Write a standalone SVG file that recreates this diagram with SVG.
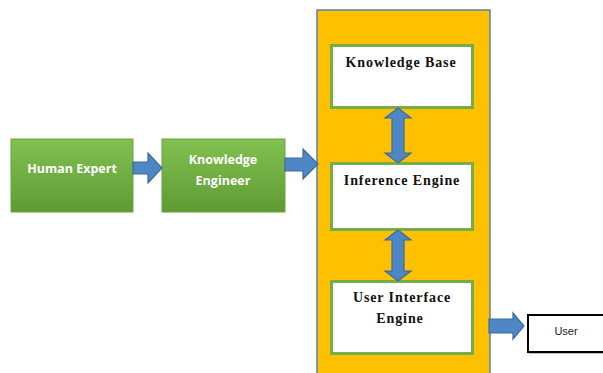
<svg xmlns="http://www.w3.org/2000/svg" width="603" height="373" viewBox="0 0 603 373">
  <defs>
    <linearGradient id="greenFill" x1="0" y1="0" x2="0" y2="1">
      <stop offset="0" stop-color="#82c051"/>
      <stop offset="1" stop-color="#5e9b34"/>
    </linearGradient>
    <style>
      .src { fill: url(#greenFill); stroke: #6aa23f; stroke-width: 1; }
      .srcText { font-family: "Open Sans", "Liberation Sans", sans-serif; font-weight: bold; font-size: 12.5px; fill: #ffffff; text-anchor: middle; }
      .module { fill: #ffffff; stroke: #77ad48; stroke-width: 3; }
      .modText { font-family: "Liberation Serif", serif; font-weight: bold; font-size: 14px; fill: #111111; text-anchor: middle; letter-spacing: 0.9px; }
      .arrow { fill: #4f86c6; stroke: #3c6a9e; stroke-width: 1.2; stroke-linejoin: miter; }
      .userText { font-family: "Liberation Sans", sans-serif; font-size: 11px; fill: #222222; text-anchor: middle; }
    </style>
  </defs>

  <rect width="603" height="373" fill="#ffffff"/>

  <!-- expert system container -->
  <g id="expert-system">
    <rect x="317" y="10" width="173" height="370" fill="#ffc000" stroke="#5a82ad" stroke-width="1.5"/>
  </g>

  <g id="human-expert">
    <rect class="src" x="11" y="139" width="122" height="73"/>
    <text class="srcText" x="72" y="173">Human Expert</text>
  </g>

  <g id="knowledge-engineer">
    <rect class="src" x="162" y="139" width="123" height="73"/>
    <text class="srcText" x="223" y="164">Knowledge</text>
    <text class="srcText" x="223" y="185">Engineer</text>
  </g>

  <g id="knowledge-base">
    <rect class="module" x="331.5" y="45.5" width="141" height="62"/>
    <text class="modText" x="401" y="67">Knowledge Base</text>
  </g>

  <g id="inference-engine">
    <rect class="module" x="331.5" y="163.5" width="141" height="66"/>
    <text class="modText" x="402" y="185">Inference Engine</text>
  </g>

  <g id="user-interface-engine">
    <rect class="module" x="331.5" y="281.5" width="141" height="72"/>
    <text class="modText" x="402" y="302">User Interface</text>
    <text class="modText" x="400" y="323">Engine</text>
  </g>

  <g id="user">
    <rect x="528" y="315" width="80" height="37" fill="#ffffff" stroke="#000000" stroke-width="2"/>
    <line x1="529" y1="352.5" x2="603" y2="352.5" stroke="#000000" stroke-width="1.5"/>
    <text class="userText" x="566" y="335">User</text>
  </g>

  <g id="connectors">
    <!-- Human Expert to Knowledge Engineer -->
    <polygon class="arrow" points="133,162 148,162 148,153 162,168 148,183 148,174 133,174"/>
    <!-- Knowledge Engineer to expert system -->
    <polygon class="arrow" points="285,158 303,158 303,149 318,164 303,179 303,171 285,171"/>
    <!-- Knowledge Base / Inference Engine -->
    <polygon class="arrow" points="398,108 411,118 404,118 404,153 411,153 398,163 385,153 392,153 392,118 385,118"/>
    <!-- Inference Engine / User Interface Engine -->
    <polygon class="arrow" points="398,230 411,240 404,240 404,271 411,271 398,281 385,271 392,271 392,240 385,240"/>
    <!-- User Interface Engine to User -->
    <polygon class="arrow" points="489,319 513,319 513,313 524,326 513,339 513,333 489,333"/>
  </g>
</svg>
